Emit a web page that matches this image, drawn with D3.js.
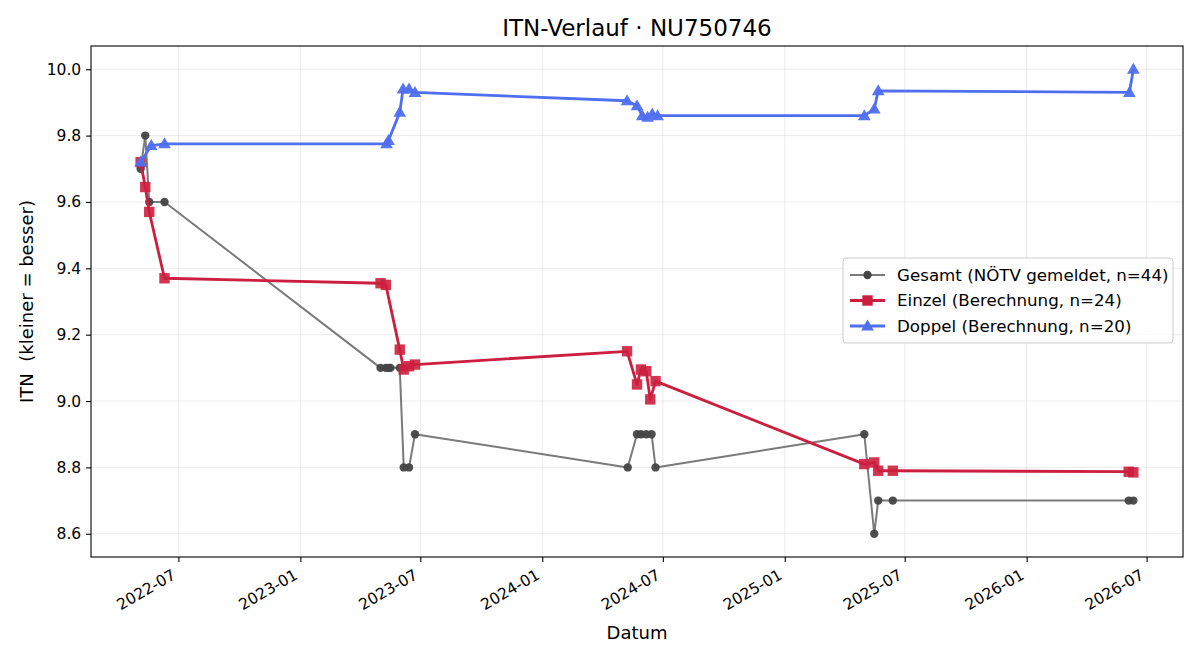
<!DOCTYPE html>
<html>
<head>
	<meta charset="UTF-8" />
	<title>ITN-Verlauf</title>
	<script src="https://d3js.org/d3.v7.min.js"></script>
	<style>
		body { margin: 0; background: #fff; font-family: "DejaVu Sans", sans-serif; }
	</style>
</head>
<body>
	<svg id="chart" width="1200" height="660"></svg>

	<script type="text/javascript">
	// data
	gesamtDates = ["2022-05-05","2022-05-12","2022-05-18","2022-06-10","2023-05-02","2023-05-10","2023-05-14","2023-05-17","2023-05-31","2023-06-06","2023-06-14","2023-06-23","2024-05-09","2024-05-23","2024-05-29","2024-06-06","2024-06-14","2024-06-20","2025-05-01","2025-05-16","2025-05-22","2025-06-13","2026-06-04","2026-06-11"]
	gesamtValues = [9.70, 9.80, 9.60, 9.60, 9.10, 9.10, 9.10, 9.10, 9.10, 8.80, 8.80, 8.90, 8.80, 8.90, 8.90, 8.90, 8.90, 8.80, 8.90, 8.60, 8.70, 8.70, 8.70, 8.70]

	einzelDates = ["2022-05-05","2022-05-12","2022-05-18","2022-06-10","2023-05-02","2023-05-10","2023-05-31","2023-06-06","2023-06-14","2023-06-23","2024-05-08","2024-05-23","2024-05-29","2024-06-06","2024-06-12","2024-06-20","2025-05-01","2025-05-16","2025-05-22","2025-06-13","2026-06-04","2026-06-11"]
	einzelValues = [9.72, 9.645, 9.57, 9.37, 9.355, 9.35, 9.155, 9.095, 9.105, 9.11, 9.15, 9.05, 9.095, 9.09, 9.005, 9.06, 8.81, 8.815, 8.79, 8.79, 8.787, 8.785]

	doppelDates = ["2022-05-05","2022-05-21","2022-06-10","2023-05-11","2023-05-14","2023-05-31","2023-06-05","2023-06-14","2023-06-23","2024-05-08","2024-05-23","2024-05-31","2024-06-08","2024-06-15","2024-06-23","2025-05-01","2025-05-16","2025-05-22","2026-06-05","2026-06-11"]
	doppelValues = [9.72, 9.77, 9.775, 9.775, 9.785, 9.87, 9.94, 9.94, 9.93, 9.905, 9.89, 9.86, 9.855, 9.865, 9.86, 9.86, 9.88, 9.935, 9.93, 10.0]

	xTicks = ["2022-07","2023-01","2023-07","2024-01","2024-07","2025-01","2025-07","2026-01","2026-07"]
	yTicks = [8.6, 8.8, 9.0, 9.2, 9.4, 9.6, 9.8, 10.0]

	seriesNames = ["Gesamt (NÖTV gemeldet, n=44)", "Einzel (Berechnung, n=24)", "Doppel (Berechnung, n=20)"]

	// colors
	grayLine = "#7a7a7a"
	grayDot = "#444444"
	red = "#cc1f3f"
	blue = "#4f6fef"

	var parse = d3.timeParse("%Y-%m-%d")
	var parseMonth = d3.timeParse("%Y-%m")

	function zipSeries(dates, values){
		return dates.map((d,i)=>({date: parse(d), value: values[i]}))
	}
	var gesamt = zipSeries(gesamtDates, gesamtValues)
	var einzel = zipSeries(einzelDates, einzelValues)
	var doppel = zipSeries(doppelDates, doppelValues)

	var margin = {left: 91, right: 17, top: 46, bottom: 103}
	var W = 1200, H = 660
	var iw = W - margin.left - margin.right
	var ih = H - margin.top - margin.bottom

	// 5% padding like matplotlib
	var allDates = gesamt.concat(einzel, doppel).map(d=>d.date)
	var allVals = gesamt.concat(einzel, doppel).map(d=>d.value)
	var dExt = d3.extent(allDates), vExt = d3.extent(allVals)
	var dPad = (dExt[1] - dExt[0]) * 0.05
	var vPad = (vExt[1] - vExt[0]) * 0.05

	var x = d3.scaleTime()
		.domain([new Date(+dExt[0] - dPad), new Date(+dExt[1] + dPad)])
		.range([0, iw])
	var y = d3.scaleLinear()
		.domain([vExt[0] - vPad, vExt[1] + vPad])
		.range([ih, 0])

	var svg = d3.select("#chart")
	var g = svg.append("g").attr("transform", `translate(${margin.left},${margin.top})`)

	// grid
	var xTickDates = xTicks.map(parseMonth)
	g.append("g").selectAll("line").data(xTickDates).enter().append("line")
		.attr("x1", d=>x(d)).attr("x2", d=>x(d))
		.attr("y1", 0).attr("y2", ih)
		.style("stroke", "#b0b0b0").style("stroke-opacity", 0.3).style("stroke-width", 0.8)
	g.append("g").selectAll("line").data(yTicks).enter().append("line")
		.attr("y1", d=>y(d)).attr("y2", d=>y(d))
		.attr("x1", 0).attr("x2", iw)
		.style("stroke", "#b0b0b0").style("stroke-opacity", 0.3).style("stroke-width", 0.8)

	// axes
	var xAxis = g.append("g")
		.attr("transform", `translate(0,${ih})`)
		.call(d3.axisBottom(x).tickValues(xTickDates).tickFormat(d3.timeFormat("%Y-%m")).tickSizeOuter(0).tickSize(4.9))
	// rotated labels, right end just left of the tick (like matplotlib autofmt_xdate)
	xAxis.selectAll("text")
		.style("font-family", "DejaVu Sans").style("font-size", "15.5px").style("fill", "#000")
		.attr("text-anchor", "end")
		.attr("x", -2).attr("y", 21).attr("dy", 0)
		.attr("transform", "rotate(-30,-2,21)")

	var yAxis = g.append("g")
		.call(d3.axisLeft(y).tickValues(yTicks).tickFormat(d3.format(".1f")).tickSizeOuter(0).tickSize(4.9).tickPadding(4.9))
	yAxis.selectAll("text")
		.style("font-family", "DejaVu Sans").style("font-size", "15.5px").style("fill", "#000")
	svg.selectAll(".domain").remove()
	svg.selectAll(".tick line").style("stroke", "#000").style("stroke-width", 1.1)

	// frame
	g.append("rect").attr("width", iw).attr("height", ih)
		.style("fill", "none").style("stroke", "#000").style("stroke-width", 1.1)

	// lines
	var line = d3.line().x(d=>x(d.date)).y(d=>y(d.value))

	g.append("path").datum(gesamt).attr("d", line)
		.style("fill", "none").style("stroke", grayLine).style("stroke-width", 2)
		.style("stroke-linejoin", "round")
	g.append("g").selectAll("circle").data(gesamt).enter().append("circle")
		.attr("cx", d=>x(d.date)).attr("cy", d=>y(d.value)).attr("r", 4.2)
		.style("fill", grayDot).style("fill-opacity", 0.95)

	g.append("path").datum(einzel).attr("d", line)
		.style("fill", "none").style("stroke", red).style("stroke-width", 2.8)
		.style("stroke-linejoin", "round")
	g.append("g").selectAll("rect").data(einzel).enter().append("rect")
		.attr("x", d=>x(d.date)-5.2).attr("y", d=>y(d.value)-5.2)
		.attr("width", 10.4).attr("height", 10.4)
		.style("fill", red).style("fill-opacity", 0.9)

	var tri = d3.symbol().type(d3.symbolTriangle).size(70)
	g.append("path").datum(doppel).attr("d", line)
		.style("fill", "none").style("stroke", blue).style("stroke-width", 2.8)
		.style("stroke-linejoin", "round")
	g.append("g").selectAll("path").data(doppel).enter().append("path")
		.attr("d", tri)
		.attr("transform", d=>`translate(${x(d.date)},${y(d.value)+0.8})`)
		.style("fill", blue).style("fill-opacity", 0.95)

	// title and labels
	svg.append("text").attr("x", margin.left + iw/2).attr("y", 36)
		.attr("text-anchor", "middle")
		.style("font-family", "DejaVu Sans").style("font-size", "23px")
		.text("ITN-Verlauf · NU750746")
	svg.append("text").attr("x", margin.left + iw/2).attr("y", 639)
		.attr("text-anchor", "middle")
		.style("font-family", "DejaVu Sans").style("font-size", "18px")
		.text("Datum")
	svg.append("text")
		.attr("transform", `translate(33,${margin.top + ih/2}) rotate(-90)`)
		.attr("text-anchor", "middle")
		.style("font-family", "DejaVu Sans").style("font-size", "18px")
		.style("white-space", "pre")
		.text("ITN  (kleiner = besser)")

	// legend
	var leg = svg.append("g").attr("transform", "translate(843,258)")
	leg.append("rect").attr("width", 330).attr("height", 85).attr("rx", 3)
		.style("fill", "#fff").style("fill-opacity", 0.8)
		.style("stroke", "#cccccc").style("stroke-width", 1)
	var legColors = [grayLine, red, blue]
	var legMarks = [grayDot, red, blue]
	seriesNames.forEach((name,i)=>{
		var row = leg.append("g").attr("transform", `translate(0,${17 + i*25.5})`)
		row.append("line").attr("x1", 7).attr("x2", 42).attr("y1", 0).attr("y2", 0)
			.style("stroke", legColors[i]).style("stroke-width", i==0 ? 2 : 2.8)
		if(i==0){
			row.append("circle").attr("cx", 24.5).attr("cy", 0).attr("r", 4.2).style("fill", legMarks[i])
		} else if(i==1){
			row.append("rect").attr("x", 19.3).attr("y", -5.2).attr("width", 10.4).attr("height", 10.4).style("fill", legMarks[i])
		} else {
			row.append("path").attr("d", tri).attr("transform", "translate(24.5,0.8)").style("fill", legMarks[i])
		}
		row.append("text").attr("x", 54).attr("y", 0).attr("dy", "0.35em")
			.style("font-family", "DejaVu Sans").style("font-size", "16.7px")
			.text(name)
	})
	</script>
</body>
</html>
